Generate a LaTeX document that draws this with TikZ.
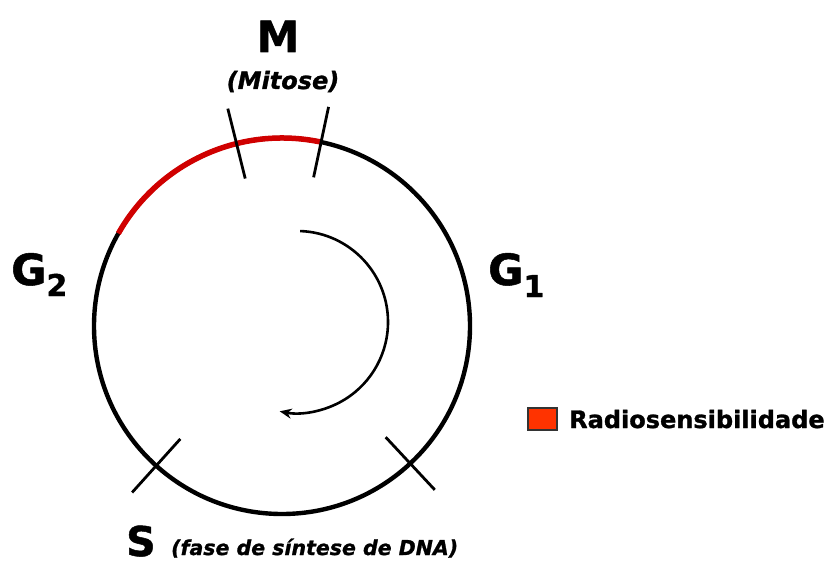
\documentclass[tikz,border=0pt]{standalone}
\usepackage{fontspec}
\setmainfont{DejaVu Sans}[
  BoldFeatures={FakeBold=1.2},
  BoldItalicFeatures={FakeBold=1.2}]
\usetikzlibrary{calc,arrows.meta}
\definecolor{cyclered}{HTML}{D00000}
\definecolor{legendred}{HTML}{FF3300}
\tikzset{
  phase/.style={inner sep=0pt, font=\bfseries\fontsize{43}{43}\selectfont},
  note/.style={inner sep=0pt, font=\bfseries\itshape\fontsize{20.5}{20.5}\selectfont},
  cycle/.style={line width=4.4pt, black},
  hot/.style={line width=5.5pt, cyclered},
  tick/.style={line width=2.8pt, black},
  flow/.style={line width=2.6pt, black, -{Stealth[length=12pt,width=10pt]}},
}
\begin{document}
\begin{tikzpicture}[x=1pt,y=1pt]
  \useasboundingbox (0,0) rectangle (834,563);
  \coordinate (C) at (282,237);
  \def\R{188}

  % the cell cycle
  \draw[cycle] (C) circle[radius=\R];
  \draw[hot] ($(C)+(78:\R)$) arc[start angle=78, end angle=150.5, radius=\R];

  % phase boundaries
  \foreach \a in {78,104,228,313}
    \draw[tick] ($(C)+(\a:152)$) -- ($(C)+(\a:224)$);

  % direction of progression
  \coordinate (F) at (297,241);
  \draw[flow] ($(F)+(88:91)$) arc[start angle=88, end angle=-101, radius=91];

  % phase labels
  \node[phase, anchor=base] (M) at (278,511) {M};
  \node[note, anchor=base, font=\bfseries\itshape\fontsize{24}{24}\selectfont] (Mit) at (283,474) {(Mitose)};
  \node[phase, anchor=base west] (G2) at (11,278) {G\raisebox{-11pt}{\fontsize{30}{30}\selectfont 2}};
  \node[phase, anchor=base west] (G1) at (488,278) {G\raisebox{-12pt}{\fontsize{30}{30}\selectfont 1}};
  \node[phase, anchor=base west, font=\bfseries\fontsize{41}{41}\selectfont] (S) at (126,7) {S};
  \node[note, anchor=base west] (Sn) at (171,8) {(fase de síntese de DNA)};

  % legend
  \draw[line width=1.2pt, black!80, fill=legendred] (528,133) rectangle (557,155);
  \node[inner sep=0pt, anchor=base west, font=\bfseries\fontsize{24}{24}\selectfont] (leg) at (569,135) {Radiosensibilidade};
\end{tikzpicture}
\end{document}
